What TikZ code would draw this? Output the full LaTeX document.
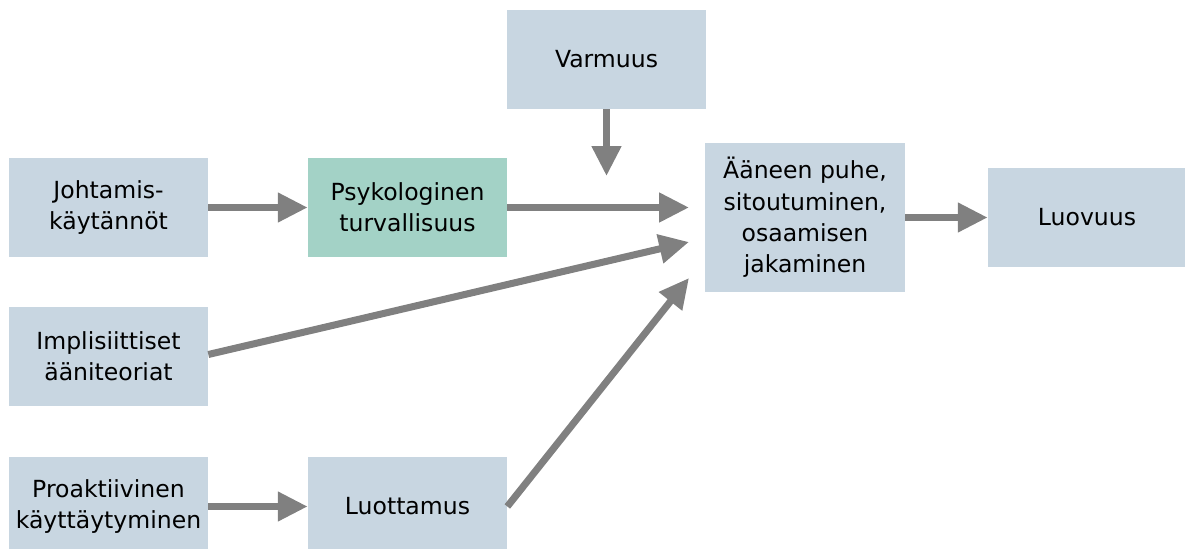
\documentclass[tikz,border=0pt]{standalone}
\usepackage{fontspec}
\setmainfont{DejaVu Sans}
\usepackage{tikz}
\usetikzlibrary{calc, arrows.meta}

\definecolor{boxblue}{HTML}{C8D6E1}
\definecolor{boxteal}{HTML}{A3D2C6}
\definecolor{arrgray}{HTML}{808080}

\begin{document}
\begin{tikzpicture}[x=0.02cm, y=-0.02cm]
\tikzstyle{box}=[fill=boxblue,minimum width=3.98cm,minimum height=1.98cm,inner sep=2pt,align=center,font=\fontsize{13.4}{17.8}\selectfont]
\tikzstyle{teal}=[box,fill=boxteal]
\tikzstyle{arr}=[draw=arrgray,line width=4pt,-{Triangle[length=17pt,width=16pt]},arrgray]
\useasboundingbox (0,0) rectangle (1185,548);
\node[box] (B_1) at (108.5,207.5) {Johtamis-\\käytännöt};
\node[teal] (B_2) at (407.5,207.5) {Psykologinen\\turvallisuus};
\node[box] (B_3) at (606.5,59.5) {Varmuus};
\node[box,minimum width=4cm,minimum height=2.98cm] (B_4) at (805,217.5) {Ääneen puhe,\\sitoutuminen,\\osaamisen\\jakaminen};
\node[box,minimum width=3.96cm] (B_5) at (1087,217.5) {Luovuus};
\node[box] (B_6) at (108.5,356.5) {Implisiittiset\\ääniteoriat};
\node[box] (B_7) at (108.5,506.5) {Proaktiivinen\\käyttäytyminen};
\node[box] (B_8) at (407.5,506.5) {Luottamus};
\coordinate (T_1) at (606.5,176);
\coordinate (T_2) at (689,207.5);
\coordinate (T_3) at (689,242);
\coordinate (T_4) at (689,278);
\draw[arr] (B_1) -- (B_2);
\draw[arr] (B_3) -- (T_1);
\draw[arr] (B_2) -- (T_2);
\draw[arr] (B_6.east) ++(0,-2) -- (T_3);
\draw[arr] (B_8.east) -- (T_4);
\draw[arr] (B_4.east |- B_5.west) -- (B_5.west);
\draw[arr] (B_7) -- (B_8);
\end{tikzpicture}
\end{document}
